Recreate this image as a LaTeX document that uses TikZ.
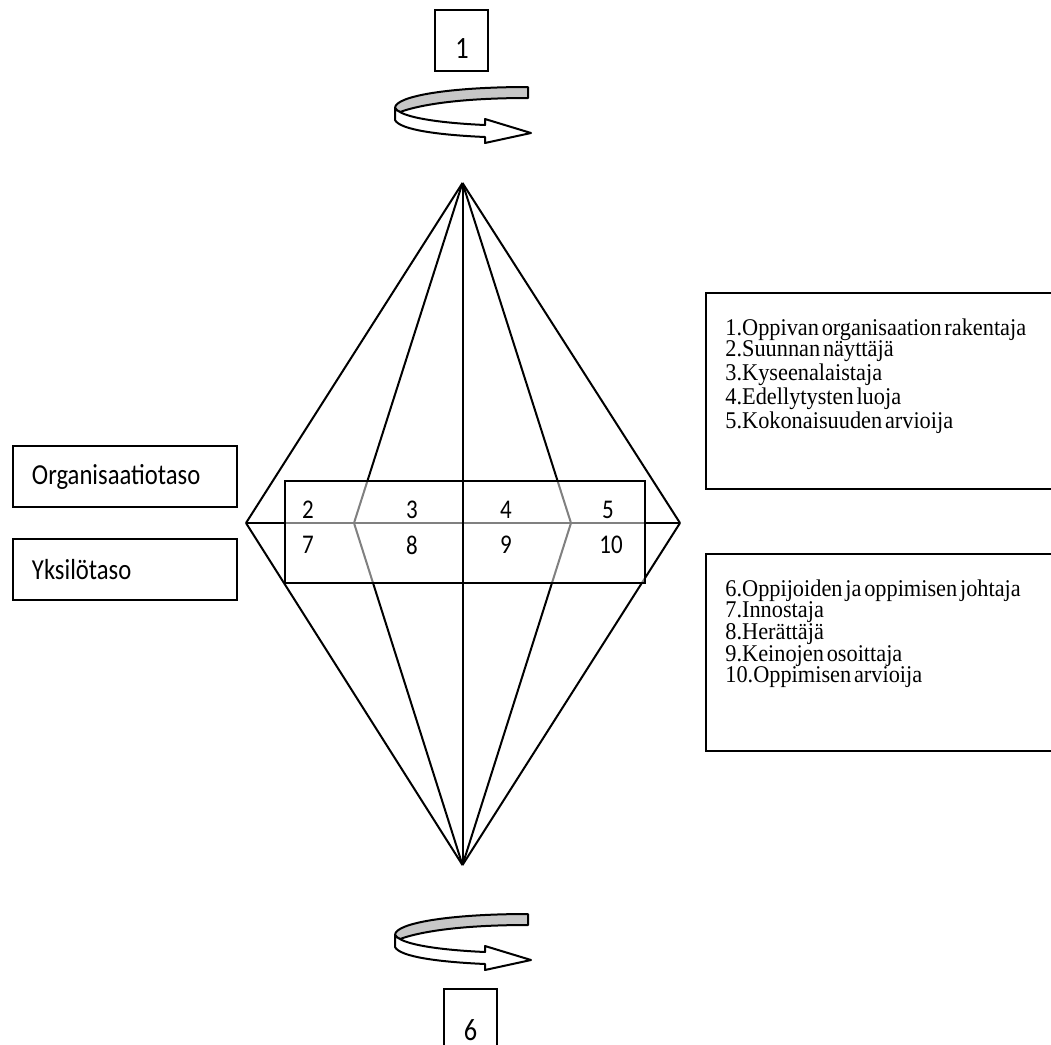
\documentclass[tikz,border=0pt]{standalone}
\usepackage{fontspec}
\newfontfamily\calfont[FakeStretch=0.85]{Carlito}
\newfontfamily\listfont[WordSpace=0.5, FakeStretch=0.93]{Liberation Serif}
\usetikzlibrary{positioning}
\tikzset{
  edge/.style={line width=1pt, black},
  lvlbox/.style={draw, line width=1pt, minimum width=112pt, minimum height=30.5pt,
    text width=93pt, inner xsep=9.5pt, align=left, font=\calfont\fontsize{14.5}{17}\selectfont},
  numbox/.style={draw, line width=1pt, minimum width=26.5pt, minimum height=30.5pt, inner sep=0pt},
  bignum/.style={inner sep=0pt, font=\calfont\fontsize{15.5}{18}\selectfont},
  cellnum/.style={inner sep=0pt, font=\calfont\fontsize{13.5}{16}\selectfont},
  rolebox/.style={draw, line width=1.2pt, anchor=north west, minimum width=200pt,
    minimum height=98pt, inner sep=0pt},
  roletext/.style={inner sep=0pt, align=left, font=\listfont\fontsize{12}{10.85}\selectfont},
  spinarrow/.pic={
    \filldraw[fill=black!22, line width=1pt, line join=round]
      (528,87) .. controls (450,87) and (395,96) .. (395,108)
      .. controls (396,110) and (398,111) .. (400,112)
      .. controls (425,103) and (470,98) .. (528,98) -- cycle;
    \filldraw[fill=white, line width=1pt, line join=round]
      (395,108) -- (395,120) .. controls (400,130) and (440,135) .. (485,137)
      -- (485,143) -- (531,133) -- (485,119) -- (485,125)
      .. controls (440,123) and (410,118) .. (400,112)
      .. controls (398,111) and (396,110) .. (395,108) -- cycle;
  }
}
\begin{document}
\begin{tikzpicture}[x=0.5pt, y=-0.5pt]
\useasboundingbox (0,0) rectangle (1051,1045);
% diamond corners
\coordinate (top) at (462.5,183);
\coordinate (bot) at (462.5,865);
\coordinate (west) at (246,523);
\coordinate (east) at (680,523);
\coordinate (iw) at (354,523);
\coordinate (ie) at (571,523);
\foreach \c in {west,iw,ie,east}{
  \draw[edge] (top) -- (\c);
  \draw[edge] (bot) -- (\c);
}
\draw[edge] (west) -- (east);
% level band
\node[draw, line width=1pt, fill=white, fill opacity=0.5, draw opacity=1,
  minimum width=180pt, minimum height=51pt] (band) at (465,532) {};
\draw[edge] (top) -- (bot);
\foreach \n/\x/\y in {2/308/510, 3/412/510, 4/506/510, 5/608/510,
                      7/308/545, 8/412/545, 9/506/545, 10/611/545}
  \node[cellnum] (n\n) at (\x,\y) {\n};
% levels
\node[lvlbox] (orglvl) at (125,476.5) {Organisaatiotaso};
\node[lvlbox] (indlvl) at (125,569.5) {Yksilötaso};
% rotation marks
\node[numbox] (box1) at (461.5,40.5) {};
\node[bignum] (num1) at (462,49) {1};
\pic at (0,0) {spinarrow};
\pic at (0,827) {spinarrow};
\node[numbox] (box6) at (470.5,1019.5) {};
\node[bignum] (num6) at (470.5,1030.5) {6};
% role lists
\node[rolebox] (orgroles) at (705,292) {};
\node[roletext, below right=13pt and 10pt of orgroles.north west] (orglist)
  {1.Oppivan organisaation rakentaja\\2.Suunnan näyttäjä\\3.Kyseenalaistaja\\
   4.Edellytysten luoja\\5.Kokonaisuuden arvioija};
\node[rolebox, minimum height=98.5pt] (indroles) at (705,553) {};
\node[roletext, below right=13pt and 10pt of indroles.north west] (indlist)
  {6.Oppijoiden ja oppimisen johtaja\\7.Innostaja\\8.Herättäjä\\
   9.Keinojen osoittaja\\10.Oppimisen arvioija};
\end{tikzpicture}
\end{document}
